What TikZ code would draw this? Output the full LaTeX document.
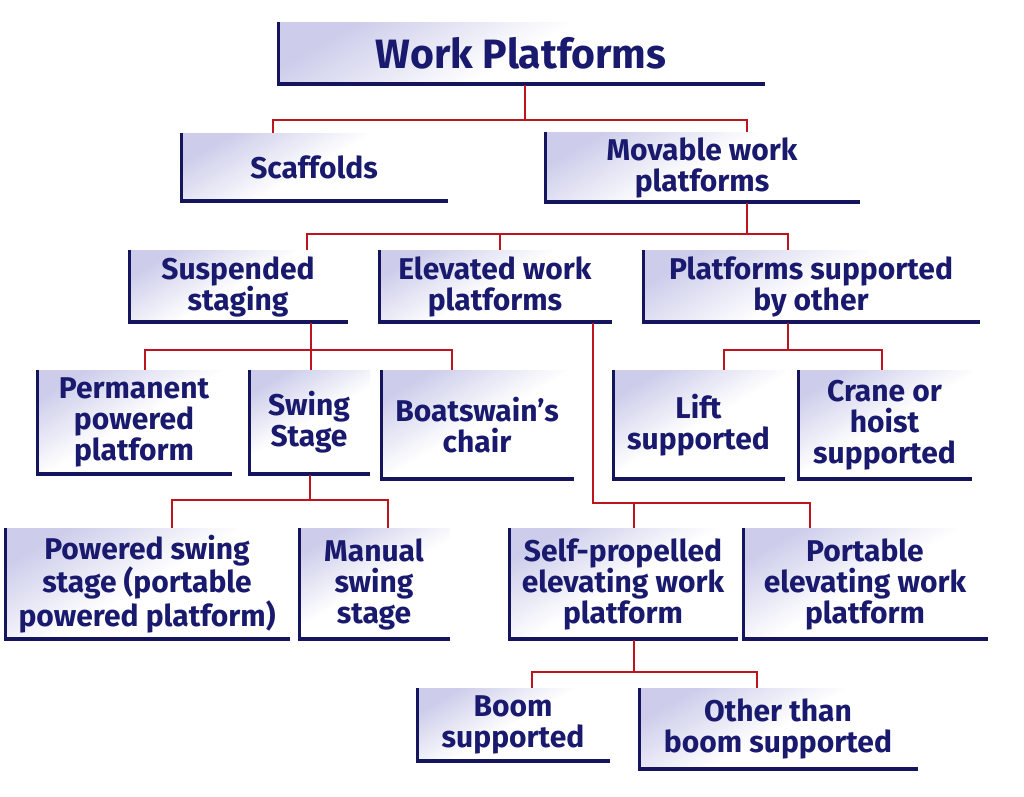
\documentclass[tikz,border=0pt]{standalone}
\usepackage{fontspec}
\setmainfont{Fira Sans}
\definecolor{navy}{RGB}{25,25,110}
\definecolor{lav}{RGB}{205,205,235}
\definecolor{ln}{RGB}{190,20,30}
\begin{document}
\begin{tikzpicture}[x=1pt,y=-1pt,
 box/.style={inner sep=0pt,align=center,text=navy,font=\fontsize{30}{31}\selectfont\bfseries,
   left color=lav,right color=white,middle color=white,shading angle=30,
   path picture={\draw[navy!85!black,line width=6pt] ([xshift=0pt]path picture bounding box.north west)--(path picture bounding box.south west)--(path picture bounding box.south east);}},
 con/.style={ln,line width=2pt}]
\useasboundingbox (0,0) rectangle (1024,796);
\newcommand{\bx}[6]{\node[box,minimum width=#4-#2,minimum height=#5-#3] (#1) at ({(#2+#4)/2},{(#3+#5)/2}) {#6};}
\bx{wp}{277}{22}{765}{85}{\fontsize{41}{41}\selectfont Work Platforms}
\bx{scaf}{180}{133}{448}{202}{Scaffolds}
\bx{mov}{544}{132}{860}{203}{Movable work\\platforms}
\bx{sus}{128}{250}{348}{323}{Suspended\\staging}
\bx{ele}{378}{250}{612}{323}{Elevated work\\platforms}
\bx{pso}{642}{250}{980}{323}{Platforms supported\\by other}
\bx{per}{36}{370}{232}{475}{Permanent\\powered\\platform}
\bx{swi}{248}{370}{370}{475}{Swing\\Stage}
\bx{boa}{380}{370}{574}{480}{Boatswain’s\\chair}
\bx{lif}{612}{370}{785}{480}{Lift\\supported}
\bx{cra}{797}{370}{972}{480}{Crane or\\hoist\\supported}
\bx{pow}{4}{528}{290}{640}{Powered swing\\stage (portable\\powered platform)}
\bx{man}{298}{528}{450}{640}{Manual\\swing\\stage}
\bx{sel}{508}{528}{738}{640}{Self-propelled\\elevating work\\platform}
\bx{por}{742}{528}{988}{640}{Portable\\elevating work\\platform}
\bx{boo}{416}{688}{610}{762}{Boom\\supported}
\bx{oth}{638}{688}{918}{770}{Other than\\boom supported}
% connectors
\coordinate (a1) at (525,120); \coordinate (a2) at (273,120); \coordinate (a3) at (747,120);
\draw[con] (a1 |- wp.south) -- (a1) (a2 |- scaf.north) -- (a2) -- (a3) -- (a3 |- mov.north);
\coordinate (b1) at (747,234); \coordinate (b2) at (307,234); \coordinate (b3) at (500,234); \coordinate (b4) at (788,234);
\draw[con] (b1 |- mov.south) -- (b1) (b2 |- sus.north) -- (b2) -- (b4) -- (b4 |- pso.north) (b3) -- (b3 |- ele.north);
\coordinate (c1) at (311,350); \coordinate (c2) at (145,350); \coordinate (c3) at (452,350);
\draw[con] (c1 |- sus.south) -- (c1 |- swi.north) (c2 |- per.north) -- (c2) -- (c3) -- (c3 |- boa.north);
\coordinate (d1) at (593,503); \coordinate (d2) at (634,503); \coordinate (d3) at (810,503);
\draw[con] (d1 |- ele.south) -- (d1) -- (d3) -- (d3 |- por.north) (d2) -- (d2 |- sel.north);
\coordinate (e1) at (788,350); \coordinate (e2) at (724,350); \coordinate (e3) at (882,350);
\draw[con] (e1 |- pso.south) -- (e1) (e2 |- lif.north) -- (e2) -- (e3) -- (e3 |- cra.north);
\coordinate (f1) at (310,500); \coordinate (f2) at (172,500); \coordinate (f3) at (388,500);
\draw[con] (f1 |- swi.south) -- (f1) (f2 |- pow.north) -- (f2) -- (f3) -- (f3 |- man.north);
\coordinate (g1) at (634,672); \coordinate (g2) at (532,672); \coordinate (g3) at (757,672);
\draw[con] (g1 |- sel.south) -- (g1) (g2 |- boo.north) -- (g2) -- (g3) -- (g3 |- oth.north);
\end{tikzpicture}
\end{document}
